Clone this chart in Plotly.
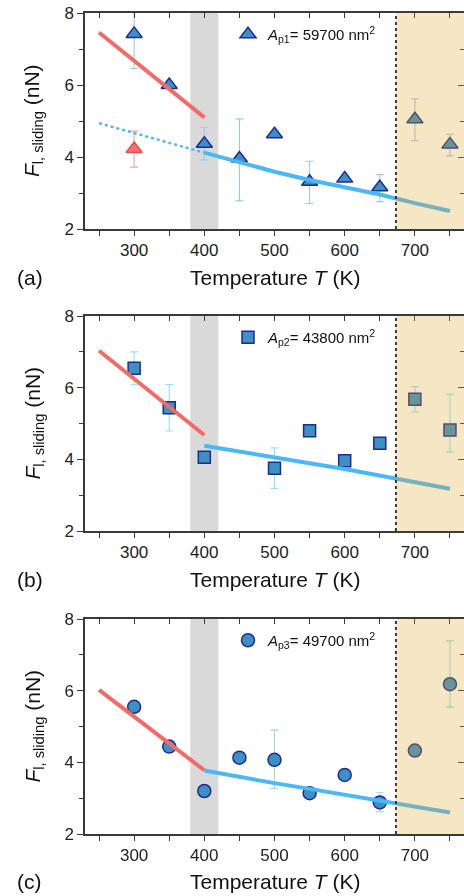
import plotly.graph_objects as go

# ---------------- data ----------------
temps = [300, 350, 400, 450, 500, 550, 600, 650, 700, 750]

# panel (a) triangles
a_vals = [7.42, 6.00, 4.37, 3.96, 4.63, 3.31, 3.40, 3.16, 5.05, 4.35]
a_err_up = [0.96, 0, 0.45, 1.10, 0, 0.57, 0, 0.35, 0.57, 0.28]
a_err_dn = [0.96, 0, 0.45, 1.18, 0, 0.60, 0, 0.40, 0.60, 0.32]
a_red_T = [300]
a_red_val = [4.22]
a_red_err = [0.50]

# panel (b) squares
b_T = [300, 350, 400, 500, 550, 600, 650, 700, 750]
b_vals = [6.54, 5.44, 4.06, 3.75, 4.80, 3.96, 4.45, 5.68, 4.82]
b_err_up = [0.46, 0.65, 0, 0.57, 0, 0, 0, 0.35, 1.00]
b_err_dn = [0.46, 0.65, 0, 0.56, 0, 0, 0, 0.36, 0.62]

# panel (c) circles
c_vals = [5.55, 4.44, 3.20, 4.13, 4.07, 3.14, 3.65, 2.88, 4.33, 6.18]
c_err_up = [0, 0, 0, 0, 0.83, 0.08, 0, 0.27, 0.05, 1.21]
c_err_dn = [0, 0, 0, 0, 0.80, 0.08, 0, 0.26, 0.05, 0.64]

# fit lines
red_T = [250, 400]
a_red_fit = [7.46, 5.10]
b_red_fit = [7.03, 4.68]
c_red_fit = [6.02, 3.78]
a_dot_T = [250, 400]
a_dot_fit = [4.94, 4.12]
blue_T = [400, 450, 500, 550, 600, 650, 700, 750]
a_blue_fit = [4.12, 3.85, 3.59, 3.36, 3.15, 2.96, 2.72, 2.50]
b_blue_fit = [4.38, 4.21, 4.05, 3.89, 3.73, 3.55, 3.35, 3.18]
c_blue_fit = [3.77, 3.59, 3.42, 3.26, 3.10, 2.93, 2.76, 2.60]

legend_names = ["<i>A</i><sub>p1</sub>= 59700 nm<sup>2</sup>",
                "<i>A</i><sub>p2</sub>= 43800 nm<sup>2</sup>",
                "<i>A</i><sub>p3</sub>= 49700 nm<sup>2</sup>"]
panel_labels = ["(a)", "(b)", "(c)"]
x_title = "Temperature <i>T</i> (K)"
y_title = "<i>F</i><sub>l, sliding</sub> (nN)"

gray_band = [380, 420]
hot_start = 673
x_range = [230, 770]
y_range = [2, 8]

# ---------------- style ----------------
FONT = "Liberation Sans, Arial, sans-serif"
MFILL = "#3d8fc4"
MEDGE = "#1e2d8c"
BLUE = "#4cb7f7"
RED = "#f26b68"
AXC = "#3a3a3a"

fig = go.Figure()

def add_markers(x, y, up, dn, symbol, size, errc, xa, ya, leg, name, fill=MFILL, edge=MEDGE, showleg=True):
    fig.add_trace(go.Scatter(
        x=x, y=y, mode="markers", xaxis=xa, yaxis=ya, legend=leg, name=name,
        showlegend=showleg,
        marker=dict(symbol=symbol, size=size, color=fill, line=dict(color=edge, width=1.5)),
        error_y=dict(type="data", array=up, arrayminus=dn, color=errc, thickness=1.1, width=4),
    ))

def add_line(x, y, color, xa, ya, dash="solid", width=4):
    fig.add_trace(go.Scatter(x=x, y=y, mode="lines", xaxis=xa, yaxis=ya, showlegend=False,
                             line=dict(color=color, width=width, dash=dash)))

def add_ghost(x, y, xa, ya):
    # invisible trace so that the mirrored (top/right) axes get drawn
    fig.add_trace(go.Scatter(x=x, y=y, mode="markers", xaxis=xa, yaxis=ya, showlegend=False,
                             opacity=0, marker=dict(size=1), hoverinfo="skip"))

# panel a
add_markers(a_red_T, a_red_val, a_red_err, a_red_err, "triangle-up", 14, "#f5a3a3", "x", "y", "legend",
            "red", fill="#f87070", edge="#ef4b4b", showleg=False)
add_markers(temps, a_vals, a_err_up, a_err_dn, "triangle-up", 14, "#9ecbea", "x", "y", "legend", legend_names[0])
add_line(red_T, a_red_fit, RED, "x", "y")
add_line(a_dot_T, a_dot_fit, BLUE, "x", "y", dash="dot", width=2.5)
add_line(blue_T, a_blue_fit, BLUE, "x", "y")

# panel b
add_markers(b_T, b_vals, b_err_up, b_err_dn, "square", 12, "#8ee6ea", "x2", "y2", "legend2", legend_names[1])
add_line(red_T, b_red_fit, RED, "x2", "y2")
add_line(blue_T, b_blue_fit, BLUE, "x2", "y2")

# panel c
add_markers(temps, c_vals, c_err_up, c_err_dn, "circle", 13, "#9ddada", "x3", "y3", "legend3", legend_names[2])
add_line(red_T, c_red_fit, RED, "x3", "y3")
add_line(blue_T, c_blue_fit, BLUE, "x3", "y3")

# ghost traces for mirrored axes
panel_data = [(temps, a_vals), (b_T, b_vals), (temps, c_vals)]
for i, (gx, gy) in enumerate(panel_data):
    n = i + 1
    sx = "" if n == 1 else str(n)
    add_ghost(gx, gy, "x" + str(n + 3), "y" + sx)
    add_ghost(gx, gy, "x" + sx, "y" + str(n + 3))

H_TOP, H_BOT, H = 13, 62, 896
PH = H - H_TOP - H_BOT
def py(p):
    return (H - H_BOT - p) / PH
L = 85
PW = 464 - L
def px(p):
    return (p - L) / PW

panels = [(13, 229), (316, 531), (619, 834)]

tickfont = dict(family=FONT, size=17, color="#222")
layout = dict(
    template="none",
    width=464, height=896, plot_bgcolor="white", paper_bgcolor="white",
    margin=dict(l=L, r=0, t=H_TOP, b=H_BOT, autoexpand=False),
    font=dict(family=FONT, color="#222"),
    shapes=[], annotations=[],
)

for i, (top, bot) in enumerate(panels):
    n = i + 1
    sx = "" if n == 1 else str(n)
    xa, ya = "x" + sx, "y" + sx
    dom = [py(bot), py(top)]
    layout["xaxis" + sx] = dict(
        domain=[0, 1], anchor=ya, range=x_range, tickmode="linear", tick0=300, dtick=100,
        ticks="outside", ticklen=5, tickwidth=1.3, tickcolor=AXC, automargin=False,
        minor=dict(ticks="outside", dtick=50, tick0=250, ticklen=5, tickwidth=1.3, tickcolor=AXC),
        showline=True, linecolor=AXC, linewidth=1.5, showgrid=False, zeroline=False,
        tickfont=tickfont, fixedrange=True,
    )
    layout["yaxis" + sx] = dict(
        domain=dom, anchor=xa, range=y_range, tickmode="linear", tick0=2, dtick=2,
        ticks="outside", ticklen=6, tickwidth=1.3, tickcolor=AXC, automargin=False,
        minor=dict(ticks="outside", dtick=1, tick0=2, ticklen=4, tickwidth=1.3, tickcolor=AXC),
        showline=True, linecolor=AXC, linewidth=1.5, showgrid=False, zeroline=False,
        tickfont=tickfont, fixedrange=True,
    )
    # mirrored axes with inward ticks (top / right)
    ox, oy = "xaxis" + str(n + 3), "yaxis" + str(n + 3)
    layout[ox] = dict(
        overlaying=xa, anchor=ya, side="top", range=x_range, tickmode="linear", tick0=300, dtick=100,
        ticks="inside", ticklen=5, tickwidth=1.3, tickcolor=AXC, showticklabels=False, automargin=False,
        minor=dict(ticks="inside", dtick=50, tick0=250, ticklen=5, tickwidth=1.3, tickcolor=AXC),
        showline=True, linecolor=AXC, linewidth=1.5, showgrid=False, zeroline=False, fixedrange=True,
    )
    layout[oy] = dict(
        overlaying=ya, anchor=xa, side="right", range=y_range, tickmode="linear", tick0=2, dtick=2,
        ticks="inside", ticklen=6, tickwidth=1.3, tickcolor=AXC, showticklabels=False, automargin=False,
        minor=dict(ticks="inside", dtick=1, tick0=2, ticklen=4, tickwidth=1.3, tickcolor=AXC),
        showline=True, linecolor=AXC, linewidth=1.5, showgrid=False, zeroline=False, fixedrange=True,
    )
    # shapes
    layout["shapes"] += [
        dict(type="rect", xref=xa, yref=ya + " domain", x0=gray_band[0], x1=gray_band[1], y0=0, y1=1,
             fillcolor="#d9d9d9", line=dict(width=0), layer="below"),
        dict(type="rect", xref=xa, yref=ya + " domain", x0=hot_start, x1=x_range[1], y0=0, y1=1,
             fillcolor="rgba(220,167,44,0.28)", line=dict(width=0), layer="above"),
        dict(type="line", xref=xa, yref=ya + " domain", x0=hot_start, x1=hot_start, y0=0, y1=1,
             line=dict(color="#111", width=1.6, dash="dot"), layer="above"),
    ]
    # annotations: titles and panel labels
    layout["annotations"] += [
        dict(text=x_title, xref="paper", yref="paper", x=0.5, y=py(bot + 48), xanchor="center",
             yanchor="middle", showarrow=False, font=dict(family=FONT, size=21, color="#111")),
        dict(text=panel_labels[i], xref="paper", yref="paper", x=px(15), y=py(bot + 48), xanchor="left",
             yanchor="middle", showarrow=False, font=dict(family=FONT, size=21, color="#111")),
        dict(text=y_title, xref="paper", yref="paper", x=px(33), y=py((top + bot) / 2), xanchor="center",
             yanchor="middle", textangle=-90, showarrow=False, font=dict(family=FONT, size=21, color="#111")),
    ]
    legkey = "legend" if n == 1 else "legend" + str(n)
    layout[legkey] = dict(
        x=px(228), y=py(top + 5), xanchor="left", yanchor="top", bgcolor="rgba(0,0,0,0)",
        borderwidth=0, font=dict(family=FONT, size=15, color="#111"), itemclick=False,
    )

fig.update_layout(**layout)
fig.write_html(
    "out.html",
    config={"displayModeBar": False},
    post_script="document.body.style.margin='0';document.body.style.overflow='hidden';",
)
